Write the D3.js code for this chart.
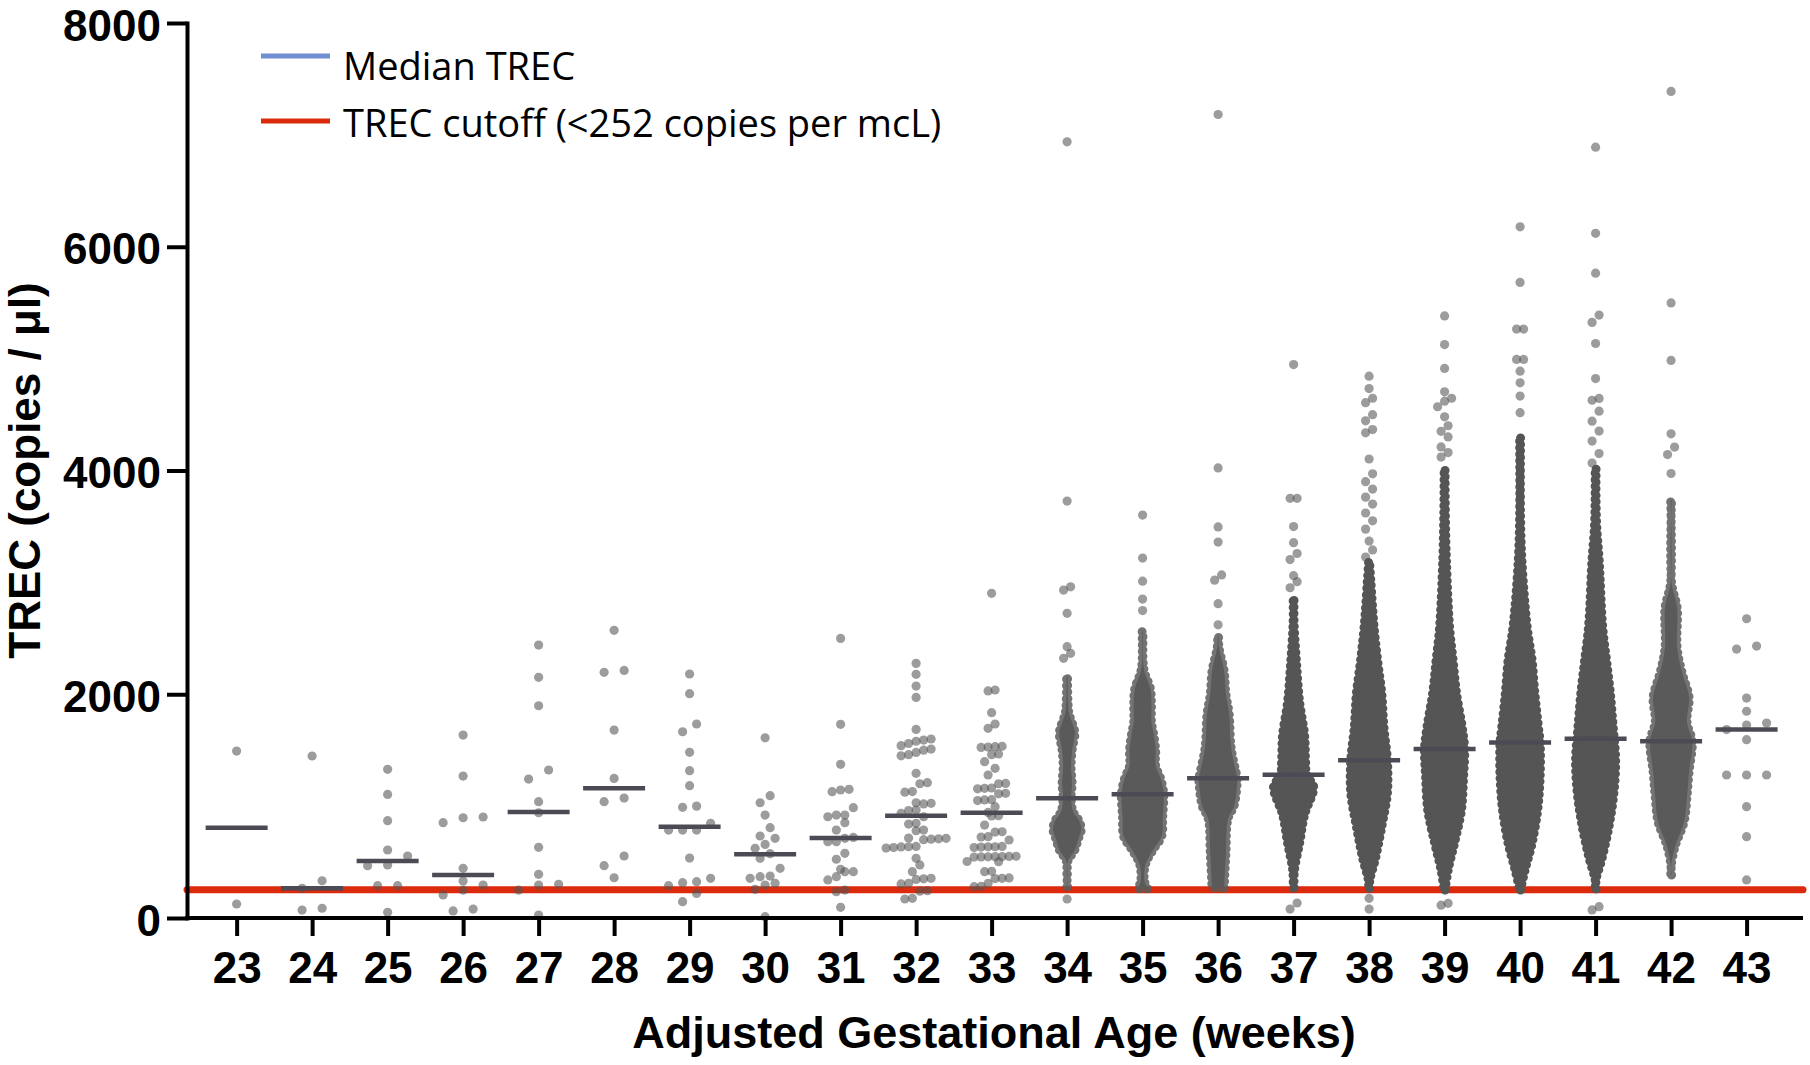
<!DOCTYPE html>
<html><head><meta charset="utf-8">
<script src="https://cdn.jsdelivr.net/npm/d3@7"></script>
<style>
html,body{margin:0;padding:0;background:#fff}
svg{display:block}
</style>
</head><body>
<svg id="chart" width="1810" height="1065"></svg>
<script>
// ---------- DATA ----------
const weeks = [23,24,25,26,27,28,29,30,31,32,33,34,35,36,37,38,39,40,41,42,43];
const weekLabels = ["23","24","25","26","27","28","29","30","31","32","33","34","35","36","37","38","39","40","41","42","43"];
const medians = [807,265,509,384,947,1159,816,569,714,914,941,1070,1106,1249,1281,1410,1511,1568,1603,1581,1684];
const yTickValues = [0,2000,4000,6000,8000];
const cutoffValue = 252;
const legendLabels = ["Median TREC","TREC cutoff (<252 copies per mcL)"];
const xTitle = "Adjusted Gestational Age (weeks)";
const yTitle = "TREC (copies / \u03bcl)";

// individual TREC values for the sparse weeks
const w23 = [1492,125];
const w24 = [1448,333,265,87,71];
const w25 = [1329,1105,870,608,554,474,468,289,289,51];
const w26 = [1635,1269,903,896,852,444,331,295,250,206,80,63];
const w27 = [2440,2151,1897,1323,1242,1040,941,632,390,301,295,250,27];
const w28 = [2571,2213,2196,1680,1248,1072,1040,554,468,360];
const w29 = [2181,2005,1734,1665,1481,1317,1183,1000,989,846,786,786,786,536,355,325,316,289,220,146];
const w30 = [1611,1093,1030,920,807,733,712,658,623,575,533,444,375,369,355,310,295,256,12];
const w31 = [2499,1731,1374,1150,1144,1129,986,920,920,905,852,786,720,712,682,682,578,525,435,414,414,369,340,250,235,95];
const w32 = [2276,2178,2073,1972,1686,1600,1590,1580,1560,1540,1510,1500,1480,1460,1450,
             1293,1210,1200,1130,1125,1030,1025,1020,965,960,936,905,846,840,786,780,
             715,712,708,705,700,640,637,635,630,625,533,474,414,355,350,345,310,305,244,240,176,170];
const w33 = [2902,2038,2030,1835,1734,1695,1531,1535,1528,1525,1466,1460,1397,1338,1278,1203,1200,1159,1162,1155,
             1114,1110,1055,1058,1050,995,944,912,915,831,771,768,727,724,697,637,640,634,630,636,
             548,545,550,546,552,549,547,503,505,414,418,355,358,352,310,280,282];
const w43 = [2675,2431,2404,1966,1848,1742,1725,1684,1594,1278,1278,1278,995,727,340];

// dense weeks: swarm envelope as [TREC value, dots side by side] plus the separate outlying points
const env34 = [[280,1],[500,1],[610,3.1],[700,4],[790,4.9],[870,4.3],[950,2.6],[1070,2],[1200,2.3],[1350,2],[1500,2.3],[1650,3.1],[1720,2.6],[1830,1.4],[1950,1.1],[2160,1]];
const out34 = [6938,3727,2960,2931,2723,2425,2366,2321,170];
const env35 = [[262,2.3],[330,1.4],[480,1.7],[600,3.7],[730,6.3],[900,6.6],[1110,6.9],[1250,6],[1360,4.6],[1500,4.6],[1650,4],[1750,3.4],[1900,3.4],[2050,3.1],[2200,1.4],[2300,1],[2560,1]];
const out35 = [3602,3217,3011,2851,2748];
const env36 = [[270,2.6],[575,3.1],[888,3.7],[1000,5.4],[1200,6.3],[1250,6.3],[1520,4.6],[1832,4],[2000,3.1],[2207,2.6],[2425,1.1],[2520,1]];
const out36 = [7182,4023,3496,3360,3067,3020,2810,2621];
const env37 = [[270,1],[420,1.1],[670,2.6],[920,4],[1173,6.6],[1281,4.6],[1400,4.3],[1641,4],[1930,2.6],[2288,1.7],[2647,1],[2860,1]];
const out37 = [4947,3751,3751,3499,3355,3258,3204,3060,3006,2952,134,80];
const env38 = [[265,1],[340,1.1],[518,2.6],[816,4.5],[1114,6.1],[1412,6.1],[1710,5.1],[2008,4.5],[2306,3.3],[2603,2.3],[3000,1.4],[3186,1]];
const out38 = [4843,4732,4646,4606,4499,4444,4366,4337,4103,3970,3900,3834,3762,3700,3620,3550,3476,3369,3290,3226,176,80];
const env39 = [[250,1],[429,1.9],[667,3.7],[965,5.7],[1263,6.3],[1513,6.6],[1710,5.9],[2008,4.3],[2306,3.3],[2603,2.3],[3200,1.4],[3600,1.1],[4013,1]];
const out39 = [5382,5126,4912,4703,4646,4620,4570,4480,4400,4350,4300,4211,4160,4120,131,115];
const env40 = [[250,1],[429,2.3],[667,4.3],[965,5.9],[1263,6.6],[1564,6.6],[1710,6.1],[2008,5.1],[2306,4.3],[2603,2.9],[3200,1.4],[3600,1],[4300,1]];
const out40 = [6178,5681,5264,5264,4993,4993,4888,4784,4665,4517];
const env41 = [[260,1],[340,1],[518,2.6],[816,4.7],[1114,6.1],[1412,6.6],[1710,5.9],[2008,5.1],[2306,4],[2603,2.9],[3200,1.9],[3500,1.2],[3753,1],[4018,1]];
const out41 = [6890,6120,5764,5389,5324,5135,4822,4644,4628,4530,4441,4352,4263,4151,4066,101,72];
const env42 = [[384,1],[461,0.9],[639,2],[861,4.6],[1081,5.4],[1305,6],[1581,6.9],[1752,5.4],[1975,6],[2194,4],[2417,2.6],[2773,2.6],[3000,1],[3735,1]];
const out42 = [7388,5498,4984,4328,4209,4142,3973];

// ---------- BUILD ----------
const sparse = {23:w23,24:w24,25:w25,26:w26,27:w27,28:w28,29:w29,30:w30,31:w31,32:w32,33:w33,43:w43};
const envelopes = {34:env34,35:env35,36:env36,37:env37,38:env38,39:env39,40:env40,41:env41,42:env42};
const outliers = {34:out34,35:out35,36:out36,37:out37,38:out38,39:out39,40:out40,41:out41,42:out42};

// layout / style
const spacingByWeek = {23:20,24:20,25:20,26:20,27:20,28:20,29:14,30:10,31:8.5,32:7.5,33:7,43:20};
const denseSpacing = 7;
const dotR = 4.6;
const rowPx = 10;
const axisLeft = 187, axisRight = 1801, axisBottomY = 918, axisTopY = 23;

const svg = d3.select("#chart");
const y = d3.scaleLinear().domain([0, 8000]).range([axisBottomY, axisTopY]);
const x = d3.scalePoint().domain(weeks).range([axisLeft, axisRight]).padding(0.689).align(0.477);
// half-width of the filled core (edge dots of radius 4.5 are added around it)
const widthScale = d3.scaleLinear().domain([1, 8]).range([0.5, 25]);

function swarm(vals, spacing) {
  const sorted = vals.slice().sort((a, b) => a - b);
  const rows = [];
  sorted.forEach(v => {
    const last = rows[rows.length - 1];
    if (last && (y(last.base) - y(v)) < rowPx) last.items.push(v);
    else rows.push({base: v, items: [v]});
  });
  const pts = [];
  rows.forEach(r => {
    const k = r.items.length;
    r.items.forEach((v, i) => pts.push({v, dx: (i - (k - 1) / 2) * spacing}));
  });
  return pts;
}

const font = "'Liberation Sans', Arial, Helvetica, sans-serif";

// cutoff line (under the dots)
svg.append("line")
  .attr("x1", axisLeft).attr("x2", axisRight + 2)
  .attr("y1", y(cutoffValue)).attr("y2", y(cutoffValue))
  .attr("stroke", "#dc2a0c").attr("stroke-width", 7).attr("stroke-linecap", "round");

// dense swarm envelopes
const areaGen = d3.area().curve(d3.curveCatmullRom.alpha(0.5));
Object.keys(envelopes).forEach(k => {
  const wk = +k, cx = x(wk);
  const speckled = (wk <= 36 || wk === 42);
  areaGen.y(d => y(d[0])).x0(d => cx - widthScale(d[1])).x1(d => cx + widthScale(d[1]));
  const dPath = areaGen(envelopes[k]);
  svg.append("path")
    .attr("d", dPath)
    .attr("fill", speckled ? "#5a5a5a" : "#555555");
  // edge made of dots, like the outermost points of a swarm
  svg.append("path")
    .attr("d", dPath)
    .attr("fill", "none")
    .attr("stroke", speckled ? "#5a5a5a" : "#555555")
    .attr("stroke-opacity", speckled ? 0.85 : 1)
    .attr("stroke-width", 9)
    .attr("stroke-linecap", "round")
    .attr("stroke-dasharray", "0 6.5");
});

// individual dots
const dotsG = svg.append("g");
weeks.forEach(wk => {
  let pts = [];
  if (sparse[wk]) pts = swarm(sparse[wk], spacingByWeek[wk]);
  if (outliers[wk]) pts = swarm(outliers[wk], denseSpacing);
  dotsG.selectAll(null).data(pts).enter().append("circle")
    .attr("cx", d => x(wk) + d.dx)
    .attr("cy", d => y(d.v))
    .attr("r", dotR)
    .attr("fill", "#555555")
    .attr("fill-opacity", 0.58);
});

// median bars
svg.append("g").selectAll("line").data(weeks).enter().append("line")
  .attr("x1", d => x(d) - 31).attr("x2", d => x(d) + 31)
  .attr("y1", (d, i) => y(medians[i])).attr("y2", (d, i) => y(medians[i]))
  .attr("stroke", "#4b4b55").attr("stroke-width", 4.5);

// axes
const xAxis = d3.axisBottom(x).tickSize(18).tickSizeOuter(0).tickPadding(15.8)
  .tickFormat((d, i) => weekLabels[i]);
const gx = svg.append("g").attr("transform", `translate(0,${axisBottomY})`).call(xAxis);
const yAxis = d3.axisLeft(y).tickValues(yTickValues).tickSize(20).tickSizeOuter(0).tickPadding(6)
  .tickFormat(d3.format("d"));
const gy = svg.append("g").attr("transform", `translate(${axisLeft},0)`).call(yAxis);

[gx, gy].forEach(g => {
  g.select(".domain").attr("stroke", "#000").attr("stroke-width", 4).attr("stroke-linecap", "square");
  g.selectAll(".tick line").attr("stroke", "#000").attr("stroke-width", 4);
  g.selectAll(".tick text").attr("fill", "#000")
    .style("font-family", font).style("font-weight", "bold").style("font-size", "44px");
});
gy.selectAll(".tick text").attr("dy", "0.39em");
gx.select(".domain").attr("d", `M${axisLeft},0H${axisRight}`);

// axis titles
svg.append("text")
  .attr("x", (axisLeft + axisRight) / 2).attr("y", 1048)
  .attr("text-anchor", "middle")
  .style("font-family", font).style("font-weight", "bold").style("font-size", "45px")
  .text(xTitle);
svg.append("text")
  .attr("transform", `translate(40,${(axisTopY + axisBottomY) / 2}) rotate(-90)`)
  .attr("text-anchor", "middle")
  .style("font-family", font).style("font-weight", "bold").style("font-size", "44px")
  .text(yTitle);

// legend
const legendColors = ["#7090d2", "#d92b0c"];
const legendLineY = [56, 121];
const legendTextY = [80, 137];
legendLabels.forEach((lab, i) => {
  svg.append("line").attr("x1", 261).attr("x2", 330)
    .attr("y1", legendLineY[i]).attr("y2", legendLineY[i])
    .attr("stroke", legendColors[i]).attr("stroke-width", 5);
  svg.append("text").attr("x", 343).attr("y", legendTextY[i])
    .style("font-family", "'Open Sans', 'Noto Sans', sans-serif").style("font-size", "38px")
    .attr("fill", "#000")
    .text(lab);
});
</script>
</body></html>
